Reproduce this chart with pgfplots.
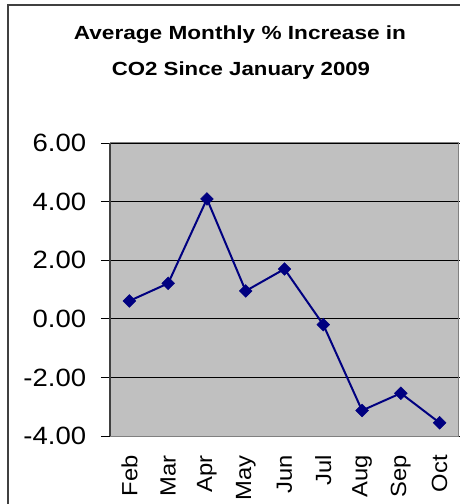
\documentclass[border=0pt]{standalone}
\usepackage{pgfplots}
\pgfplotsset{compat=1.18}
\usepackage{fontspec}
\setmainfont{Liberation Sans}
\definecolor{plotgray}{HTML}{C0C0C0}
\definecolor{navyline}{HTML}{000080}
\definecolor{framegray}{HTML}{404040}
\begin{document}
\begin{tikzpicture}
\useasboundingbox (0,0) rectangle (460bp,504bp);
\fill[white] (0,0) rectangle (460bp,504bp);
\draw[framegray, line width=2bp] (7.5bp,-10bp) -- (7.5bp,499bp) -- (470bp,499bp);
\node[font=\fontsize{19bp}{24bp}\selectfont\bfseries, xscale=1.19, anchor=base] at (240bp,464.7bp) {Average Monthly \% Increase in};
\node[font=\fontsize{19bp}{24bp}\selectfont\bfseries, xscale=1.17, anchor=base] at (241bp,428bp) {CO2 Since January 2009};
\begin{axis}[
  at={(110bp,68bp)}, anchor=south west,
  scale only axis, width=349bp, height=293bp,
  xmin=-0.5, xmax=8.5, ymin=-4, ymax=6,
  axis background/.style={fill=plotgray},
  axis line style={draw=gray!100, line width=1bp},
  xtick=data, xticklabels={Feb,Mar,Apr,May,Jun,Jul,Aug,Sep,Oct},
  x tick style={draw=none},
  ytick={-4,-2,0,2,4,6},
  y tick style={draw=black, line width=0.8bp},
  tick align=outside, major tick length=9bp,
  ymajorgrids, grid style={black, line width=0.8bp},
  yticklabel={\pgfmathprintnumber[fixed,fixed zerofill,precision=2]{\tick}},
  /pgf/number format/assume math mode=true,
  yticklabel style={font=\fontsize{25bp}{28bp}\selectfont, xscale=1.1, anchor=east, xshift=-10bp},
  xticklabel style={font=\fontsize{22bp}{26bp}\selectfont, rotate=90, xscale=1.08, anchor=east, yshift=0bp, xshift=-6bp},
  clip=false,
]
\addplot[navyline, line width=2bp, mark=square*, mark size=4.5bp, mark options={rotate=45, fill=navyline, draw=navyline, line width=0.5bp}]
  coordinates {(0,0.61) (1,1.21) (2,4.09) (3,0.95) (4,1.70) (5,-0.20) (6,-3.13) (7,-2.54) (8,-3.55)};
\draw[framegray, line width=1.2bp] (axis cs:-0.5,-4) -- (axis cs:-0.5,6);
\end{axis}
\end{tikzpicture}
\end{document}
